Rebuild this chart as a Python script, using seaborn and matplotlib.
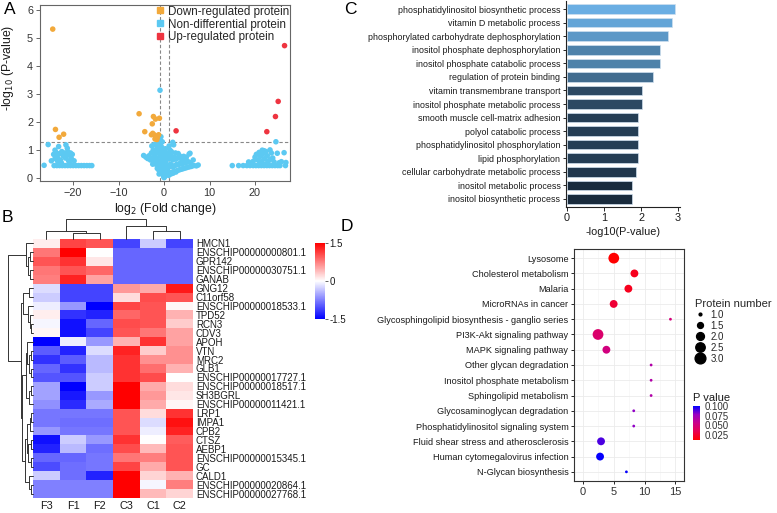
import numpy as np
import pandas as pd
import matplotlib
matplotlib.use("Agg")
import matplotlib.pyplot as plt
from matplotlib.colors import LinearSegmentedColormap, Normalize
from matplotlib.cm import ScalarMappable
from matplotlib.lines import Line2D
import seaborn as sns

# ---------------- data ----------------
# A: volcano
down_fc = [-24.5, -23.9, -23.1, -22.1, -5.5, -2.35, -1.9, -1.03, -2.6, -4.25,
           -2.5, -2.2, -1.8, -1.5, -2.0, -1.2, -2.8, -1.6]
down_logp = [5.32, 1.74, 1.46, 1.57, 2.3, 2.2, 2.11, 2.14, 1.94, 1.66,
             1.6, 1.55, 1.5, 1.45, 1.4, 1.55, 1.55, 1.38]
up_fc = [26.5, 25.1, 24.5, 22.6, 2.64]
up_logp = [4.73, 2.74, 2.2, 1.66, 1.69]

nd_fc = [
    # left group
    -26.4, -24.2, -23.6, -23.0, -22.4, -21.8, -21.2, -20.6, -20.0, -19.4, -18.8, -18.2, -17.6, -17.0, -16.4, -15.9,
    -25.5, -24.0, -23.2, -21.6, -21.3, -24.8, -24.3, -23.8, -23.5, -23.0, -22.8, -22.5, -22.2, -22.0, -21.7,
    -21.5, -21.2, -20.9, -20.6, -20.4, -20.2, -21.0, -22.6, -23.4, -24.0, -20.8, -19.8,
    # centre
    0.0, 0.1, -0.1, 0.2, -0.2, 0.3, -0.3, 0.05, 0.4, -0.4, 0.5, -0.5, 0.6, 0.0, -0.6, 0.7, 0.2, -0.2, -0.7, 0.8,
    0.5, -0.5, -0.9, 0.9, 0.1, -0.3, 0.4, -0.8, -0.1, 0.6, -0.5, 0.2, -0.9, 0.8, -0.3, 0.4, -0.7, 0.0, -1.0, -0.5,
    0.3, -0.8, -1.2, -0.4, -1.0, -0.7, -1.3, -1.5, -1.8, -0.9,
    -1.2, -1.5, -1.4, -1.8, -1.6, -2.0, -2.2, -2.0, -2.5, -2.6, -2.8, -2.4, -2.7, -3.0, -3.3, -3.6, -4.0, -4.5,
    -1.1, -1.3, -1.7, -2.2,
    1.0, 1.2, 1.5, 1.8, 2.0, 2.3, 2.6, 3.0, 3.4, 3.8, 4.2, 4.6, 5.0, 5.5, 6.0, 6.5, 7.1, 7.5,
    1.1, 1.4, 1.7, 2.0, 2.4, 2.8, 3.2, 3.6, 4.0, 4.4, 4.8, 5.2, 5.8, 6.4, 1.2, 1.5, 1.9, 2.2, 2.6, 3.0,
    3.4, 3.8, 4.3, 4.9, 5.5, 5.7, 1.3, 1.6, 2.1, 1.9, 2.5, 3.1, 1.0, 1.1,
    # right group
    15.0, 16.4, 17.4, 18.2, 18.9, 19.6, 20.2, 20.8, 21.4, 22.0, 22.6, 23.2, 23.8, 24.4, 25.0, 25.5, 26.7,
    24.6, 26.8, 26.4, 23.3, 24.9, 25.8, 25.3, 19.6, 20.0, 20.3, 20.6, 20.9, 21.2, 21.5, 21.8, 22.1, 22.4,
    22.7, 23.0, 23.6, 23.9, 24.2, 21.0, 22.5, 19.0, 18.6, 23.5, 22.0, 21.6,
]
nd_logp = [
    0.46, 0.45, 0.45, 0.45, 0.45, 0.45, 0.45, 0.45, 0.45, 0.45, 0.45, 0.45, 0.45, 0.45, 0.45, 0.45,
    1.2, 1.0, 1.13, 1.19, 1.07, 0.62, 0.85, 0.92, 0.75, 0.88, 0.65, 0.95, 0.8, 0.9, 0.72,
    0.88, 0.95, 0.82, 0.9, 0.7, 0.85, 0.62, 0.55, 0.6, 0.7, 0.55, 0.62,
    0.02, 0.05, 0.06, 0.1, 0.12, 0.15, 0.18, 0.2, 0.2, 0.25, 0.25, 0.3, 0.3, 0.3, 0.35, 0.35, 0.4, 0.42, 0.42, 0.38,
    0.45, 0.5, 0.5, 0.42, 0.55, 0.6, 0.6, 0.62, 0.7, 0.68, 0.75, 0.78, 0.8, 0.75, 0.88, 0.9, 0.95, 1.0, 1.05, 1.1,
    1.05, 1.2, 1.25, 1.3, 1.4, 1.48, 1.5, 1.1, 1.0, 3.14,
    0.3, 0.35, 0.55, 0.5, 0.7, 0.6, 0.75, 0.85, 0.5, 0.7, 0.9, 1.0, 1.15, 0.65, 0.8, 0.7, 0.75, 0.81,
    0.15, 0.9, 1.2, 1.2,
    0.1, 0.2, 0.15, 0.22, 0.18, 0.25, 0.22, 0.28, 0.3, 0.32, 0.34, 0.36, 0.38, 0.4, 0.42, 0.45, 0.44, 0.47,
    0.4, 0.5, 0.45, 0.4, 0.45, 0.5, 0.48, 0.55, 0.5, 0.6, 0.55, 0.6, 0.55, 0.65, 0.7, 0.8, 0.65, 0.75, 0.68, 0.72,
    0.8, 0.7, 0.78, 0.75, 0.86, 0.89, 1.0, 0.95, 1.19, 1.28, 0.9, 0.88, 0.9, 1.15,
    0.45, 0.45, 0.45, 0.45, 0.45, 0.45, 0.45, 0.45, 0.45, 0.45, 0.45, 0.45, 0.45, 0.45, 0.45, 0.45, 0.45,
    1.3, 0.56, 0.91, 1.01, 0.89, 0.59, 0.55, 0.6, 0.75, 0.85, 0.65, 0.92, 0.78, 0.6, 0.88, 0.7, 0.95,
    0.8, 0.62, 0.9, 0.72, 0.58, 0.52, 0.52, 0.52, 0.58, 0.68, 0.98, 1.0,
]
p_cut = 0.05
fc_cut = 1

# B: heatmap (row-scaled expression)
genes = ["HMCN1", "ENSCHIP00000000801.1", "GPR142", "ENSCHIP00000030751.1", "GANAB", "GNG12",
         "C11orf58", "ENSCHIP00000018533.1", "TPD52", "RCN3", "CDV3", "APOH", "VTN", "MRC2", "GLB1",
         "ENSCHIP00000017727.1", "ENSCHIP00000018517.1", "SH3BGRL", "ENSCHIP00000011421.1", "LRP1",
         "IMPA1", "CPB2", "CTSZ", "AEBP1", "ENSCHIP00000015345.1", "GC", "CALD1",
         "ENSCHIP00000020864.1", "ENSCHIP00000027768.1"]
F3 = [0.1, 0.8, 1.0, 0.8, 0.75, -0.2, -0.3, -0.1, 0.1, -0.05, 0.05, -1.5, -0.95, -1.2, -0.9,
      -1.0, -0.55, -0.55, -0.65, -0.8, -0.8, -0.6, -1.4, -1.3, -0.9, -1.05, -0.3, -0.75, -0.75]
F1 = [1.1, 1.5, 1.2, 1.0, 1.3, -1.1, -1.1, -0.6, -1.2, -1.4, -1.4, -0.1, -1.3, -0.95, -1.2,
      -1.0, -1.5, -1.35, -1.25, -0.8, -0.85, -0.8, -0.3, -0.4, -0.9, -0.85, -0.85, -0.75, -0.75]
F2 = [1.0, 0.0, 0.15, 0.9, 0.55, -1.1, -1.1, -1.5, -1.3, -0.9, -1.1, -0.6, -0.2, -0.4, -0.4,
      -0.3, -0.3, -0.6, -0.5, -0.8, -0.85, -0.8, -0.6, -0.85, -0.8, -0.8, -1.3, -0.75, -0.75]
C3 = [-1.1, -0.9, -0.9, -0.9, -0.9, 0.6, 0.2, 1.1, 0.9, 1.05, 1.0, 0.45, 1.3, 1.2, 1.2,
      1.2, 1.5, 1.5, 1.5, 1.0, 1.0, 1.0, 1.2, 1.05, 0.8, 1.1, 1.5, 1.5, 1.5]
C1 = [-0.3, -0.9, -0.9, -0.9, -0.9, 0.5, 1.05, 1.0, 1.0, 1.0, 0.8, 1.2, 0.3, 0.65, 0.85,
      1.05, 0.5, 0.6, 0.5, 0.2, -0.2, -0.1, 0.0, 0.4, 0.75, 0.5, 0.25, -0.05, 0.4]
C2 = [-1.1, -0.9, -0.9, -0.9, -0.9, 1.35, 1.0, 0.05, 0.45, 0.3, 0.55, 0.55, 0.65, 0.65, 0.45,
      0.0, 0.2, 0.15, 0.05, 1.2, 1.4, 1.3, 0.95, 1.0, 1.0, 1.0, 0.45, 0.75, 0.25]
samples = ["F3", "F1", "F2", "C3", "C1", "C2"]

# dendrogram merges: (child a, child b, height), new clusters numbered after the leaves
row_merges = [(1, 2, 0.12), (3, 4, 0.12), (29, 30, 0.2), (0, 31, 0.3),
              (5, 6, 0.15), (9, 10, 0.08), (8, 34, 0.12), (7, 35, 0.2), (33, 36, 0.4),
              (12, 13, 0.1), (14, 15, 0.1), (38, 39, 0.15), (11, 40, 0.25),
              (16, 17, 0.1), (18, 42, 0.15), (41, 43, 0.3),
              (19, 20, 0.08), (21, 45, 0.12), (22, 23, 0.1), (24, 25, 0.1), (47, 48, 0.2),
              (46, 49, 0.25), (27, 28, 0.1), (26, 51, 0.18), (50, 52, 0.32),
              (44, 53, 0.45), (37, 54, 0.5), (32, 55, 1.0)]
col_merges = [(1, 2, 0.3), (0, 6, 0.38), (4, 5, 0.38), (3, 8, 0.63), (7, 9, 1.0)]

# C: GO enrichment
go_terms = ["phosphatidylinositol biosynthetic process", "vitamin D metabolic process",
            "phosphorylated carbohydrate dephosphorylation", "inositol phosphate dephosphorylation",
            "inositol phosphate catabolic process", "regulation of protein binding",
            "vitamin transmembrane transport", "inositol phosphate metabolic process",
            "smooth muscle cell-matrix adhesion", "polyol catabolic process",
            "phosphatidylinositol phosphorylation", "lipid phosphorylation",
            "cellular carbohydrate metabolic process", "inositol metabolic process",
            "inositol biosynthetic process"]
go_logp = [2.92, 2.83, 2.72, 2.52, 2.52, 2.33, 2.02, 2.02, 1.92, 1.92, 1.92, 1.92, 1.87, 1.75, 1.75]

# D: KEGG enrichment
kegg_terms = ["Lysosome", "Cholesterol metabolism", "Malaria", "MicroRNAs in cancer",
              "Glycosphingolipid biosynthesis - ganglio series", "PI3K-Akt signaling pathway",
              "MAPK signaling pathway", "Other glycan degradation", "Inositol phosphate metabolism",
              "Sphingolipid metabolism", "Glycosaminoglycan degradation",
              "Phosphatidylinositol signaling system", "Fluid shear stress and atherosclerosis",
              "Human cytomegalovirus infection", "N-Glycan biosynthesis"]
kegg_x = [5.0, 8.35, 7.37, 4.98, 14.2, 2.44, 3.8, 11.06, 11.06, 11.06, 8.24, 8.24, 2.93, 2.77, 7.05]
kegg_count = [3, 2, 2, 2, 1, 3, 2, 1, 1, 1, 1, 1, 2, 2, 1]
kegg_p = [0.012, 0.02, 0.02, 0.027, 0.05, 0.045, 0.052, 0.068, 0.068, 0.068, 0.08, 0.08, 0.09, 0.1, 0.1]

# ---------------- figure ----------------
sns.set_style("ticks")
plt.rcParams['font.family'] = ['Liberation Sans', 'DejaVu Sans']
plt.rcParams['axes.linewidth'] = 0.8

W, H = 777, 513
fig = plt.figure(figsize=(W / 100, H / 100), dpi=100)


def box(l, t, r, b):
    return fig.add_axes([l / W, 1 - b / H, (r - l) / W, (b - t) / H])


def dendro_lines(merges, n_leaves):
    pos = [i + 0.5 for i in range(n_leaves)]
    hgt = [0.0] * n_leaves
    lines = []
    for a, b, h in merges:
        lines.append(([pos[a], pos[a], pos[b], pos[b]], [hgt[a], h, h, hgt[b]]))
        pos.append((pos[a] + pos[b]) / 2)
        hgt.append(h)
    return lines


txt = '#1a1a1a'

# ---- A: volcano ----
vol = pd.concat([
    pd.DataFrame({'fc': nd_fc, 'logp': nd_logp, 'group': 'Non-differential protein'}),
    pd.DataFrame({'fc': down_fc, 'logp': down_logp, 'group': 'Down-regulated protein'}),
    pd.DataFrame({'fc': up_fc, 'logp': up_logp, 'group': 'Up-regulated protein'}),
], ignore_index=True)
vol_colors = {'Down-regulated protein': '#F2A93B', 'Non-differential protein': '#5CC9F2',
              'Up-regulated protein': '#EE3440'}

axA = box(40, 5, 290, 181)
sns.scatterplot(data=vol, x='fc', y='logp', hue='group', palette=vol_colors, s=16,
                linewidth=0, legend=False, ax=axA, zorder=3)
axA.axhline(-np.log10(p_cut), color='#888888', ls=(0, (3, 2)), lw=0.8, zorder=2)
axA.axvline(-fc_cut, color='#888888', ls=(0, (3, 2)), lw=0.8, zorder=2)
axA.axvline(fc_cut, color='#888888', ls=(0, (3, 2)), lw=0.8, zorder=2)
axA.set_xlim(-27.3, 27.7)
axA.set_ylim(-0.1, 6.18)
axA.set_xticks([-20, -10, 0, 10, 20])
axA.set_yticks(range(7))
for s in axA.spines.values():
    s.set_color('#666666')
axA.tick_params(labelsize=7.8, length=3, width=0.7, color='#666666', labelcolor='#333333', pad=2)
axA.set_xlabel('log$_2$ (Fold change)', fontsize=8.8, color=txt, labelpad=2)
axA.set_ylabel('-log$_{10}$ (P-value)', fontsize=8.8, color=txt)
axA.yaxis.set_label_coords(-0.095, 0.64)
handles = [Line2D([], [], marker='s', ls='', color=vol_colors[k], markersize=5)
           for k in ['Down-regulated protein', 'Non-differential protein', 'Up-regulated protein']]
axA.legend(handles, ['Down-regulated protein', 'Non-differential protein', 'Up-regulated protein'],
           loc='upper right', frameon=False, fontsize=8.4, handlelength=0.8, handletextpad=0.3,
           labelspacing=0.08, borderaxespad=0.05, borderpad=0.0)

# ---- B: heatmap ----
hm = pd.DataFrame({'F3': F3, 'F1': F1, 'F2': F2, 'C3': C3, 'C1': C1, 'C2': C2}, index=genes)
bwr = LinearSegmentedColormap.from_list('bwr2', ['#0000FF', '#FFFFFF', '#FF0000'])
axH = box(33, 239, 193, 498)
cax = box(315, 243, 325, 319)
sns.heatmap(hm, cmap=bwr, vmin=-1.5, vmax=1.5, ax=axH, cbar_ax=cax,
            xticklabels=True, yticklabels=True)
axH.yaxis.tick_right()
axH.set_yticklabels(genes, rotation=0, fontsize=7, color=txt)
axH.set_xticklabels(samples, rotation=0, fontsize=7.8, color=txt)
axH.tick_params(length=0, pad=2)
cax.set_yticks([-1.5, 0, 1.5])
cax.set_yticklabels(['-1.5', '0', '1.5'], fontsize=7, color=txt)
cax.tick_params(length=2, width=0.5, pad=1)

axCol = box(33, 219, 193, 239)
for xs, hs in dendro_lines(col_merges, len(samples)):
    axCol.plot(xs, hs, color='#333333', lw=0.7, clip_on=False)
axCol.set_xlim(0, len(samples))
axCol.set_ylim(0, 1)
axCol.axis('off')

axRow = box(8, 239, 33, 498)
for ys, hs in dendro_lines(row_merges, len(genes)):
    axRow.plot(hs, ys, color='#333333', lw=0.7, clip_on=False)
axRow.set_xlim(1, 0)
axRow.set_ylim(len(genes), 0)
axRow.axis('off')

# ---- C: GO bars ----
go = pd.DataFrame({'term': go_terms, 'logp': go_logp})
gg_blue = LinearSegmentedColormap.from_list('ggblue', ['#132B43', '#56B1F7'])
nrm = Normalize(min(go_logp), max(go_logp))
bar_colors = [gg_blue(nrm(v)) for v in go_logp]
axC = box(566, 1, 680, 207)
sns.barplot(data=go, x='logp', y='term', hue='term', palette=bar_colors, legend=False,
            width=0.7, ax=axC, edgecolor='#cfe0ef', linewidth=0.5)
axC.set_xlim(-0.027, 3.05)
axC.set_ylim(14.6, -0.6)
axC.set_xticks([0, 1, 2, 3])
sns.despine(ax=axC)
axC.spines['left'].set_color('#222222')
axC.spines['bottom'].set_color('#222222')
axC.tick_params(axis='y', labelsize=6.4, length=2.5, width=0.7, pad=1.5, labelcolor=txt)
axC.tick_params(axis='x', labelsize=7.8, length=3, width=0.7, pad=1.5, labelcolor=txt)
axC.set_ylabel('')
axC.set_xlabel('-log10(P-value)', fontsize=7.8, color=txt, labelpad=3)

# ---- D: KEGG bubbles ----
kegg = pd.DataFrame({'term': kegg_terms, 'ratio': kegg_x, 'count': kegg_count, 'p': kegg_p})
p_cmap = LinearSegmentedColormap.from_list('rb', ['#FF0000', '#E8004F', '#CB008A', '#9A00C2', '#0000FF'])
p_norm = Normalize(0.012, 0.101)
axD = box(574, 249, 684, 481)
axD.set_xticks([0, 5, 10, 15])
axD.set_xticks([2.5, 7.5, 12.5], minor=True)
axD.grid(True, which='major', color='#EBEBEB', lw=0.6)
axD.grid(True, which='minor', axis='x', color='#F3F3F3', lw=0.4)
axD.set_axisbelow(True)
sns.scatterplot(data=kegg, x='ratio', y='term', size='count', sizes=(4, 60), size_norm=(1, 3),
                hue='p', palette=p_cmap, hue_norm=p_norm, linewidth=0, legend=False, ax=axD, zorder=3)
axD.set_xlim(-1.46, 16.4)
axD.set_ylim(14.6, -0.6)
for s in axD.spines.values():
    s.set_color('#333333')
axD.tick_params(axis='y', labelsize=6.6, length=2.5, width=0.7, pad=1.5, labelcolor=txt)
axD.tick_params(axis='x', which='major', labelsize=8, length=2.5, width=0.7, pad=1.5, labelcolor='#333333')
axD.tick_params(axis='x', which='minor', length=0)
axD.set_xlabel('')
axD.set_ylabel('')

size_levels = [1.0, 1.5, 2.0, 2.5, 3.0]
size_handles = [Line2D([], [], marker='o', ls='', color='black',
                       markersize=np.sqrt(4 + 56 * (v - 1) / 2)) for v in size_levels]
fig.legend(size_handles, [f'{v:.1f}' for v in size_levels], title='Protein number',
           loc='upper left', bbox_to_anchor=(690 / W, 1 - 294 / H), frameon=False,
           fontsize=7, title_fontsize=8, handlelength=1.0, handletextpad=0.6,
           labelspacing=0.1, borderpad=0, alignment='left')

cax2 = box(693, 406, 700, 440)
cb = fig.colorbar(ScalarMappable(norm=p_norm, cmap=p_cmap), cax=cax2)
cb.outline.set_visible(False)
cb.set_ticks([0.025, 0.05, 0.075, 0.1])
cb.set_ticklabels(['0.025', '0.050', '0.075', '0.100'])
cax2.tick_params(labelsize=7, length=2, width=0.5, color='white', pad=1.5, labelcolor='#333333')
fig.text(693 / W, 1 - 398 / H, 'P value', fontsize=8, va='center', ha='left', color=txt)

# panel letters
for letter, x, y in [('A', 4, 10), ('B', 2, 217), ('C', 344, 9), ('D', 341, 227)]:
    fig.text(x / W, 1 - y / H, letter, fontsize=12.5, va='center', ha='left', color='black')

fig.savefig('out.png', dpi=100)
